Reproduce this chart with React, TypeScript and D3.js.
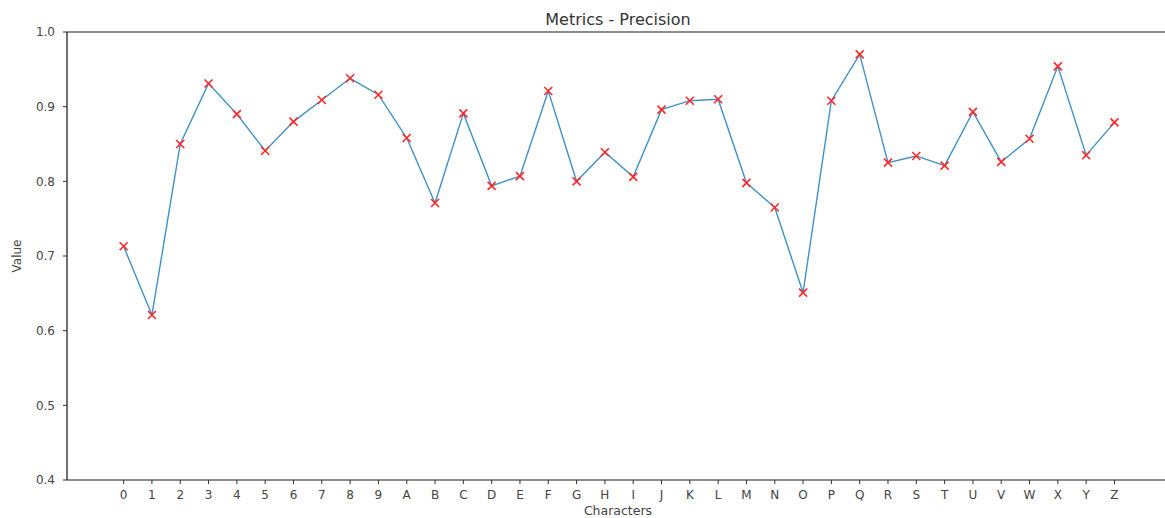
import React, { useEffect, useRef } from 'react';
import * as d3 from 'd3';

// characters on the x axis
const characters = [
  '0', '1', '2', '3', '4', '5', '6', '7', '8', '9',
  'A', 'B', 'C', 'D', 'E', 'F', 'G', 'H', 'I', 'J', 'K', 'L', 'M',
  'N', 'O', 'P', 'Q', 'R', 'S', 'T', 'U', 'V', 'W', 'X', 'Y', 'Z',
];

// precision per character
const precision = [
  0.713, 0.621, 0.850, 0.931, 0.890, 0.841, 0.880, 0.909, 0.938, 0.916,
  0.858, 0.771, 0.891, 0.794, 0.807, 0.921, 0.800, 0.839, 0.806, 0.896,
  0.908, 0.910, 0.798, 0.765, 0.651, 0.908, 0.970, 0.825, 0.834, 0.821,
  0.893, 0.826, 0.857, 0.954, 0.835, 0.879,
];

const yTicks = [0.4, 0.5, 0.6, 0.7, 0.8, 0.9, 1.0];

const width = 1165;
const height = 518;
const font = '"DejaVu Sans", sans-serif';

function App() {
  const svgRef = useRef<SVGSVGElement>(null);

  useEffect(() => {
    const svg = d3.select(svgRef.current);
    svg.selectAll('*').remove();

    const left = 67, top = 32, bottom = 480;
    const step = 28.31;
    const x = d3.scaleLinear().domain([-2, 37]).range([left, left + 39 * step]);
    const y = d3.scaleLinear().domain([0.4, 1.0]).range([bottom, top]);

    const data = characters.map((c, i) => ({ c, i, v: precision[i] }));

    // spines
    svg.append('line')
      .attr('x1', left).attr('x2', width).attr('y1', top).attr('y2', top)
      .attr('stroke', '#666').attr('stroke-width', 1.3);
    svg.append('line')
      .attr('x1', left).attr('x2', width).attr('y1', bottom).attr('y2', bottom)
      .attr('stroke', '#666').attr('stroke-width', 1.3);
    svg.append('line')
      .attr('x1', left).attr('x2', left).attr('y1', top).attr('y2', bottom)
      .attr('stroke', '#222').attr('stroke-width', 1.3);

    // y ticks
    const yg = svg.append('g');
    yTicks.forEach(t => {
      yg.append('line')
        .attr('x1', left - 4).attr('x2', left).attr('y1', y(t)).attr('y2', y(t))
        .attr('stroke', '#333');
      yg.append('text')
        .attr('x', left - 12).attr('y', y(t)).attr('dy', '0.35em')
        .attr('text-anchor', 'end')
        .attr('font-size', 12).attr('fill', '#444').attr('font-family', font)
        .text(t.toFixed(1));
    });

    // x ticks
    const xg = svg.append('g');
    data.forEach(d => {
      xg.append('line')
        .attr('x1', x(d.i)).attr('x2', x(d.i)).attr('y1', bottom).attr('y2', bottom + 4)
        .attr('stroke', '#333');
      xg.append('text')
        .attr('x', x(d.i)).attr('y', bottom + 18.5)
        .attr('text-anchor', 'middle')
        .attr('font-size', 12).attr('fill', '#444').attr('font-family', font)
        .text(d.c);
    });

    // line
    const line = d3.line<{ i: number; v: number }>()
      .x(d => x(d.i))
      .y(d => y(d.v));
    svg.append('path')
      .datum(data)
      .attr('d', line)
      .attr('fill', 'none')
      .attr('stroke', '#4190c6')
      .attr('stroke-width', 1.4);

    // x markers
    const s = 4;
    svg.append('g')
      .selectAll('path')
      .data(data)
      .join('path')
      .attr('d', d => `M${x(d.i) - s},${y(d.v) - s}L${x(d.i) + s},${y(d.v) + s}M${x(d.i) - s},${y(d.v) + s}L${x(d.i) + s},${y(d.v) - s}`)
      .attr('stroke', '#ff2828')
      .attr('stroke-width', 1.6);

    // labels
    svg.append('text')
      .attr('x', 618).attr('y', 25)
      .attr('text-anchor', 'middle')
      .attr('font-size', 16).attr('fill', '#333').attr('font-family', font)
      .text('Metrics - Precision');
    svg.append('text')
      .attr('x', 618).attr('y', 515)
      .attr('text-anchor', 'middle')
      .attr('font-size', 12.5).attr('fill', '#444').attr('font-family', font)
      .text('Characters');
    svg.append('text')
      .attr('transform', `translate(21,${(top + bottom) / 2}) rotate(-90)`)
      .attr('text-anchor', 'middle')
      .attr('font-size', 12).attr('fill', '#444').attr('font-family', font)
      .text('Value');
  }, []);

  return (
    <svg
      ref={svgRef}
      width={width}
      height={height}
      style={{ position: 'absolute', left: 0, top: 0, background: '#fff' }}
    />
  );
}

export default App;
